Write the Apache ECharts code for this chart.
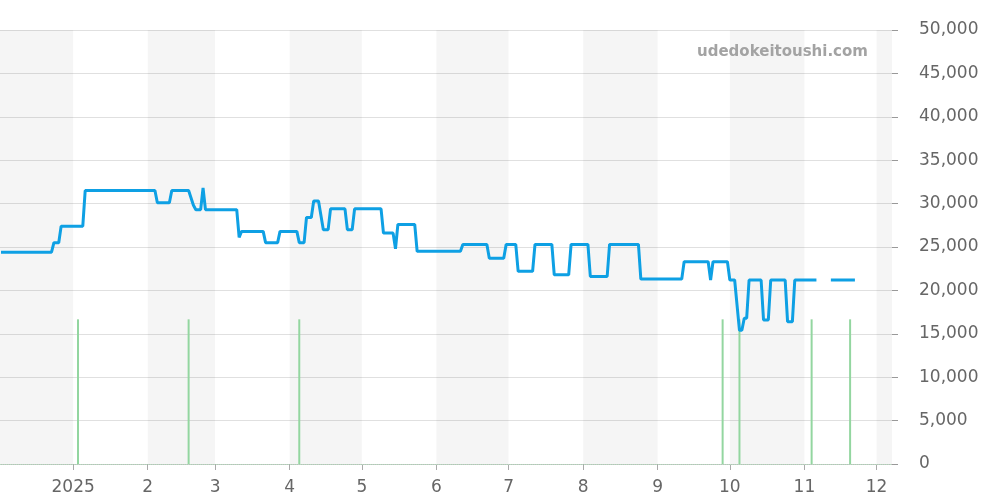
<!DOCTYPE html>
<html>
<head>
<meta charset="utf-8">
<script src="https://cdn.jsdelivr.net/npm/echarts@6/dist/echarts.min.js"></script>
<style>
  html, body { margin: 0; padding: 0; background: #fff; }
  #chart { width: 1000px; height: 500px; }
</style>
</head>
<body>
<div id="chart"></div>
<script>
// price line: change points, null = no data
const priceDates = [
  '2024-12-02', '2024-12-23', '2024-12-24', '2024-12-26', '2024-12-27',
  '2025-01-05', '2025-01-06', '2025-02-04', '2025-02-05', '2025-02-10',
  '2025-02-11', '2025-02-18', '2025-02-20', '2025-02-21', '2025-02-22',
  '2025-02-23', '2025-02-24', '2025-02-25', '2025-03-10', '2025-03-11',
  '2025-03-12', '2025-03-21', '2025-03-22', '2025-03-27', '2025-03-28',
  '2025-04-04', '2025-04-05', '2025-04-07', '2025-04-08', '2025-04-10',
  '2025-04-11', '2025-04-13', '2025-04-15', '2025-04-17', '2025-04-18',
  '2025-04-24', '2025-04-25', '2025-04-27', '2025-04-28', '2025-05-09',
  '2025-05-10', '2025-05-14', '2025-05-15', '2025-05-16', '2025-05-23',
  '2025-05-24', '2025-06-11', '2025-06-12', '2025-06-22', '2025-06-23',
  '2025-06-29', '2025-06-30', '2025-07-04', '2025-07-05', '2025-07-11',
  '2025-07-12', '2025-07-19', '2025-07-20', '2025-07-26', '2025-07-27',
  '2025-08-03', '2025-08-04', '2025-08-11', '2025-08-12', '2025-08-24',
  '2025-08-25', '2025-09-11', '2025-09-12', '2025-09-22', '2025-09-23',
  '2025-09-24', '2025-09-30', '2025-10-01', '2025-10-03', '2025-10-05',
  '2025-10-06', '2025-10-07', '2025-10-08', '2025-10-09', '2025-10-14',
  '2025-10-15', '2025-10-17', '2025-10-18', '2025-10-24', '2025-10-25',
  '2025-10-27', '2025-10-28', '2025-11-06', '2025-11-09', '2025-11-12',
  '2025-11-22'
];
const priceValues = [
  24400, 24400, 25500, 25500, 27400,
  27400, 31500, 31500, 30100, 30100,
  31500, 31500, 29800, 29300, 29300,
  29300, 31800, 29300, 29300, 26100,
  26800, 26800, 25500, 25500, 26800,
  26800, 25500, 25500, 28400, 28400,
  30300, 30300, 27000, 27000, 29400,
  29400, 27000, 27000, 29400, 29400,
  26600, 26600, 24800, 27600, 27600,
  24500, 24500, 25300, 25300, 23700,
  23700, 25300, 25300, 22200, 22200,
  25300, 25300, 21800, 21800, 25300,
  25300, 21600, 21600, 25300, 25300,
  21300, 21300, 23300, 23300, 21200,
  23300, 23300, 21200, 21200, 15400,
  15400, 16800, 16800, 21200, 21200,
  16600, 16600, 21200, 21200, 16400,
  16400, 21200, 21200, null, 21200,
  21200
];

// green event bars
const eventDates = ['2025-01-03', '2025-02-18', '2025-04-05', '2025-09-28', '2025-10-05', '2025-11-04', '2025-11-20'];
const eventValues = [1, 1, 1, 1, 1, 1, 1];

const yTicks = [0, 5000, 10000, 15000, 20000, 25000, 30000, 35000, 40000, 45000, 50000];

const chart = echarts.init(document.getElementById('chart'));

const option = {
  animation: false,
  textStyle: { fontFamily: 'DejaVu Sans' },
  grid: { left: 0, right: 108, top: 30, bottom: 36 },
  graphic: [{
    type: 'text',
    left: 697,
    top: 45,
    z: 100,
    style: {
      text: 'udedokeitoushi.com',
      fill: '#a3a3a3',
      font: 'bold 15px "DejaVu Sans"'
    }
  }],
  xAxis: {
    type: 'time',
    min: '2024-12-02',
    max: '2025-12-07',
    splitNumber: 12,
    maxInterval: 31 * 86400000,
    axisLine: { lineStyle: { color: '#bbb' } },
    axisTick: { show: true, length: 6, lineStyle: { color: '#aaa' } },
    axisLabel: {
      color: '#666',
      fontSize: 17,
      margin: 15,
      formatter: { year: '{yyyy}', month: '{M}', day: '{d}' }
    },
    splitLine: { show: false },
    splitArea: { show: true, areaStyle: { color: ['rgba(0,0,0,0.04)', 'rgba(0,0,0,0)'] } }
  },
  yAxis: [{
    type: 'value',
    position: 'right',
    min: yTicks[0],
    max: yTicks[yTicks.length - 1],
    interval: 5000,
    axisLine: { show: false },
    axisTick: { show: true, length: 6, lineStyle: { color: '#999' } },
    axisLabel: {
      color: '#666',
      fontSize: 17,
      margin: 27,
      padding: [7, 0, 0, 0],
      formatter: v => v.toLocaleString('en-US')
    },
    splitLine: { lineStyle: { color: '#e0e0e0' } }
  }, {
    type: 'value',
    min: 0,
    max: 3,
    show: false
  }],
  series: [{
    type: 'bar',
    yAxisIndex: 1,
    barWidth: 2,
    itemStyle: { color: '#93d6a0' },
    data: eventDates.map((d, i) => [d, eventValues[i]]),
    markLine: {
      silent: true,
      symbol: 'none',
      label: { show: false },
      lineStyle: { color: '#b5dfbe', type: 'dotted', width: 1 },
      data: [{ yAxis: 0 }]
    }
  }, {
    type: 'line',
    showSymbol: false,
    connectNulls: false,
    lineStyle: { color: '#0ea0e4', width: 3 },
    itemStyle: { color: '#0ea0e4' },
    data: priceDates.map((d, i) => [d, priceValues[i]])
  }]
};

chart.setOption(option);
</script>
</body>
</html>
